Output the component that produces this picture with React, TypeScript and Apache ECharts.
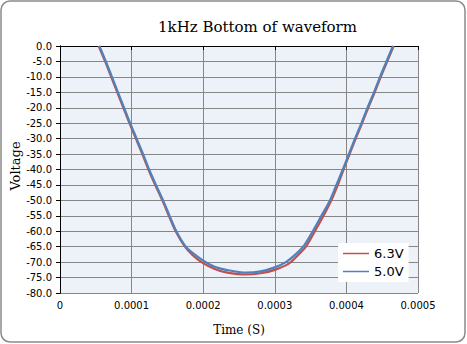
import React, { useEffect, useRef } from "react";
import * as echarts from "echarts";

const TITLE = "1kHz Bottom of waveform";
const X_NAME = "Time (S)";
const Y_NAME = "Voltage";
const SERIES_NAMES = ["6.3V", "5.0V"];
const SERIES_COLORS = ["#C0504D", "#4F81BD"];

// time in units of 1e-4 s, voltage in V
const t63 = [0.54, 0.63, 0.715, 0.8, 0.885, 0.97, 1.06, 1.15, 1.235, 1.33, 1.43, 1.52, 1.615, 1.745, 1.85, 1.975, 2.16, 2.32, 2.6, 2.8, 3.0, 3.2, 3.33, 3.44, 3.56, 3.68, 3.79, 3.88, 3.96, 4.045, 4.13, 4.22, 4.305, 4.395, 4.48, 4.57, 4.66];
const v63 = [0, -5, -10, -15, -20, -25, -30, -35, -40, -45, -50, -55, -60, -65, -67.7, -70, -72.2, -73.3, -74.0, -73.6, -72.5, -70.4, -67.6, -64.8, -60, -55, -50, -45, -40, -35, -30, -25, -20, -15, -10, -5, 0];
const t50 = [0.55, 0.64, 0.725, 0.81, 0.895, 0.98, 1.07, 1.16, 1.245, 1.34, 1.44, 1.53, 1.625, 1.756, 1.857, 2.0, 2.16, 2.32, 2.6, 2.8, 3.0, 3.16, 3.29, 3.41, 3.53, 3.65, 3.77, 3.86, 3.95, 4.035, 4.12, 4.21, 4.295, 4.385, 4.47, 4.56, 4.65];
const v50 = [0, -5, -10, -15, -20, -25, -30, -35, -40, -45, -50, -55, -60, -65, -67.1, -69.5, -71.5, -72.5, -73.4, -73.0, -71.7, -69.9, -67.5, -64.6, -60, -55, -50, -45, -40, -35, -30, -25, -20, -15, -10, -5, 0];

const X_MIN = 0;
const X_MAX = 0.0005;
const X_STEP = 0.0001;
const Y_MIN = -80;
const Y_MAX = 0;
const Y_STEP = 5;

const toPairs = (t: number[], v: number[]) => t.map((x, i) => [x * 1e-4, v[i]]);

export default function App() {
  const ref = useRef<HTMLDivElement>(null);
  useEffect(() => {
    document.body.style.margin = "0";
    const chart = echarts.init(ref.current!, undefined, { renderer: "svg" });
    const sans = "DejaVu Sans";
    const serif = "DejaVu Serif";
    const hiddenAxis = {
      show: true,
      axisLine: { show: true, lineStyle: { color: "#000", width: 1 } },
      axisTick: { show: false },
      axisLabel: { show: false },
      splitLine: { show: false },
    };
    chart.setOption({
      animation: false,
      graphic: [
        {
          type: "rect",
          shape: { x: 1, y: 1, width: 464, height: 341, r: 9 },
          style: { fill: "none", stroke: "#8a8a8a", lineWidth: 1.5 },
          z: 100,
        },
        {
          type: "text",
          x: 257.5,
          y: 27,
          style: {
            text: TITLE,
            fontFamily: serif,
            fontSize: 15,
            fill: "#000",
            align: "center",
            verticalAlign: "middle",
          },
        },
        {
          type: "text",
          x: 15,
          y: 166,
          rotation: Math.PI / 2,
          style: {
            text: Y_NAME,
            fontFamily: serif,
            fontSize: 13,
            fill: "#000",
            align: "center",
            verticalAlign: "middle",
          },
        },
      ],
      grid: {
        left: 60,
        right: 49,
        top: 46,
        bottom: 51,
        show: true,
        backgroundColor: "#EDF2F9",
        borderWidth: 0,
        containLabel: false,
        outerBoundsMode: "none",
      },
      legend: {
        data: SERIES_NAMES,
        orient: "vertical",
        left: 338,
        top: 243,
        padding: [4, 5, 4, 5],
        icon: "rect",
        itemWidth: 26,
        itemHeight: 1.5,
        itemGap: 5,
        backgroundColor: "#fff",
        textStyle: { fontFamily: sans, fontSize: 13, color: "#000" },
      },
      xAxis: [
        {
          type: "value",
          min: X_MIN,
          max: X_MAX,
          interval: X_STEP,
          name: X_NAME,
          nameLocation: "middle",
          nameGap: 31,
          nameTextStyle: { fontFamily: serif, fontSize: 12, color: "#000" },
          axisLine: { show: true, lineStyle: { color: "#000", width: 1 } },
          axisTick: { show: true, length: 4, lineStyle: { color: "#000" } },
          axisLabel: {
            fontFamily: sans,
            fontSize: 10,
            color: "#000",
            margin: 7,
            formatter: (v: number) => (v === 0 ? "0" : v.toFixed(4)),
          },
          splitLine: { show: true, lineStyle: { color: "#868686", width: 1 } },
        },
        { type: "value", position: "top", min: X_MIN, max: X_MAX, ...hiddenAxis },
      ],
      yAxis: [
        {
          type: "value",
          min: Y_MIN,
          max: Y_MAX,
          interval: Y_STEP,
          axisLine: { show: true, lineStyle: { color: "#000", width: 1 } },
          axisTick: { show: true, length: 4, lineStyle: { color: "#000" } },
          axisLabel: {
            fontFamily: sans,
            fontSize: 10,
            color: "#000",
            margin: 8,
            formatter: (v: number) => v.toFixed(1),
          },
          splitLine: { show: true, lineStyle: { color: "#868686", width: 1 } },
        },
        { type: "value", position: "right", min: Y_MIN, max: Y_MAX, ...hiddenAxis },
      ],
      series: [
        {
          name: SERIES_NAMES[0],
          type: "line",
          data: toPairs(t63, v63),
          symbol: "none",
          smooth: 0.3,
          color: SERIES_COLORS[0],
          lineStyle: { width: 2.2, color: SERIES_COLORS[0] },
          clip: true,
        },
        {
          name: SERIES_NAMES[1],
          type: "line",
          data: toPairs(t50, v50),
          symbol: "none",
          smooth: 0.3,
          color: SERIES_COLORS[1],
          lineStyle: { width: 2.2, color: SERIES_COLORS[1] },
          clip: true,
        },
      ],
    });
    return () => chart.dispose();
  }, []);
  return <div ref={ref} style={{ width: 467, height: 344 }} />;
}
